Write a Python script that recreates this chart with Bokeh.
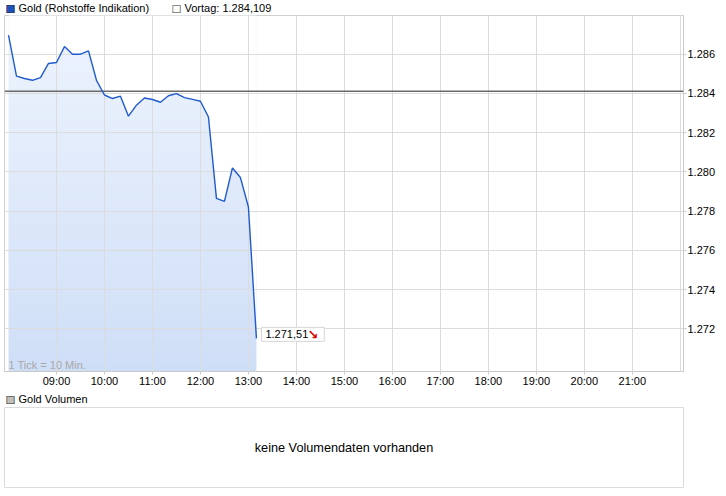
import numpy as np
from bokeh.plotting import figure
from bokeh.models import FixedTicker, Span, Label, Range1d
from bokeh.layouts import column
from bokeh.embed import file_html
from bokeh.resources import INLINE

# ---------------- data ----------------
times = ["08:00", "08:10", "08:20", "08:30", "08:40", "08:50",
         "09:00", "09:10", "09:20", "09:30", "09:40", "09:50",
         "10:00", "10:10", "10:20", "10:30", "10:40", "10:50",
         "11:00", "11:10", "11:20", "11:30", "11:40", "11:50",
         "12:00", "12:10", "12:20", "12:30", "12:40", "12:50",
         "13:00", "13:10"]
prices = [1.28697, 1.28488, 1.28476, 1.28467, 1.28481, 1.28553,
          1.28558, 1.28639, 1.28600, 1.28600, 1.28617, 1.28467,
          1.28392, 1.28374, 1.28386, 1.28284, 1.28340, 1.28377,
          1.28369, 1.28355, 1.28388, 1.28399, 1.28379, 1.28370,
          1.28360, 1.28280, 1.27865, 1.27850, 1.28020, 1.27971,
          1.27821, 1.27151]
prev_close = 1.284109
last_price_label = "1.271,51"
series_name = "Gold (Rohstoffe Indikation)"
prev_close_name = "Vortag: 1.284,109"
volume_name = "Gold Volumen"
no_volume_text = "keine Volumendaten vorhanden"
tick_note = "1 Tick = 10 Min."

x_tick_hours = [9, 10, 11, 12, 13, 14, 15, 16, 17, 18, 19, 20, 21]
x_tick_labels = ["09:00", "10:00", "11:00", "12:00", "13:00", "14:00", "15:00",
                 "16:00", "17:00", "18:00", "19:00", "20:00", "21:00"]
x_grid_hours = [9, 10, 11, 12, 13, 14, 15, 16, 17, 18, 19, 20, 21, 22]
y_ticks = [1.272, 1.274, 1.276, 1.278, 1.280, 1.282, 1.284, 1.286]
y_tick_labels = ["1.272", "1.274", "1.276", "1.278", "1.280", "1.282", "1.284", "1.286"]

x_lo, x_hi = 7 + 55 / 60, 22 + 4 / 60
y_lo, y_hi = 1.26982, 1.287975

hours = [int(t[:2]) + int(t[3:]) / 60 for t in times]

FONT = "Liberation Sans"
SYM_FONT = "DejaVu Sans"
W = 726


def blank_fig(height, **kw):
    f = figure(width=W, height=height, x_range=Range1d(0, 1), y_range=Range1d(0, 1),
               x_axis_location=None, y_axis_location=None,
               output_backend="svg", toolbar_location=None, **kw)
    f.grid.visible = False
    f.background_fill_color = "white"
    f.border_fill_color = "white"
    return f


def key_square(fig, x_off, fill):
    fig.add_layout(Label(x=0, y=0.5, x_offset=x_off, y_offset=0, text="\u25a0",
                         text_baseline="middle", text_align="left", text_color=fill,
                         text_font=SYM_FONT, text_font_size="10.5px"))
    fig.add_layout(Label(x=0, y=0.5, x_offset=x_off, y_offset=0, text="\u25a1",
                         text_baseline="middle", text_align="left", text_color="#333333",
                         text_font=SYM_FONT, text_font_size="10.5px"))


def key_text(fig, x_off, txt):
    fig.add_layout(Label(x=0, y=0.5, x_offset=x_off, y_offset=0, text=txt,
                         text_baseline="middle", text_align="left", text_color="black",
                         text_font=FONT, text_font_size="11px"))


# ---------------- header row ----------------
h1 = blank_fig(14, min_border_left=0, min_border_right=0, min_border_top=0, min_border_bottom=0)
h1.outline_line_color = None
key_square(h1, 1, "#1f52c0")
key_text(h1, 14, series_name)
key_square(h1, 167, "white")
key_text(h1, 180, prev_close_name)

# ---------------- main chart ----------------
p = figure(width=W, height=376, x_range=Range1d(x_lo, x_hi), y_range=Range1d(y_lo, y_hi),
           y_axis_location="right", output_backend="svg", toolbar_location=None,
           min_border_left=0, min_border_right=43, min_border_top=1, min_border_bottom=19)
p.background_fill_color = "white"
p.border_fill_color = "white"
p.outline_line_color = "#d0d0d0"

# gradient fill under the line
n = 160
img = np.zeros((n, 1), dtype=np.uint32)
view = img.view(dtype=np.uint8).reshape((n, 1, 4))
top_c = np.array([238, 244, 253], dtype=float)
bot_c = np.array([207, 222, 247], dtype=float)
for i in range(n):
    t = i / (n - 1)
    c = bot_c + (top_c - bot_c) * t
    view[i, 0, 0] = int(round(c[0]))
    view[i, 0, 1] = int(round(c[1]))
    view[i, 0, 2] = int(round(c[2]))
    view[i, 0, 3] = 255
p.image_rgba(image=[img], x=hours[0], y=y_lo, dw=hours[-1] - hours[0], dh=y_hi - y_lo)
p.varea(x=hours, y1=prices, y2=y_hi, fill_color="white")

line_r = p.line(hours, prices, line_color="#1f5bcc", line_width=1.4)
line_r.level = "overlay"

p.xgrid.ticker = FixedTicker(ticks=x_grid_hours)
p.ygrid.ticker = FixedTicker(ticks=y_ticks)
p.grid.grid_line_color = "#dcdcdc"
p.grid.level = "guide"

p.xaxis.ticker = FixedTicker(ticks=x_tick_hours)
p.xaxis.major_label_overrides = dict(zip(x_tick_hours, x_tick_labels))
p.yaxis.ticker = FixedTicker(ticks=y_ticks)
p.yaxis.major_label_overrides = dict(zip(y_ticks, y_tick_labels))
for ax in (p.xaxis, p.yaxis):
    ax.axis_line_color = "#c8c8c8"
    ax.major_tick_line_color = "#c8c8c8"
    ax.minor_tick_line_color = None
    ax.major_tick_in = 0
    ax.major_tick_out = 3
    ax.major_label_text_font = FONT
    ax.major_label_text_font_size = "11px"
    ax.major_label_text_color = "black"
p.xaxis.major_label_standoff = 0
p.yaxis.major_label_standoff = 1

p.add_layout(Span(location=prev_close, dimension="width", line_color="#6a6a6a", line_width=1.5))

p.add_layout(Label(x=x_lo, y=y_lo, x_offset=4, y_offset=1, text=tick_note,
                   text_baseline="bottom", text_align="left", text_color="#a8a8a8",
                   text_font=FONT, text_font_size="11px"))

p.add_layout(Label(x=hours[-1], y=prices[-1], x_offset=5, y_offset=4, text=last_price_label,
                   text_baseline="middle", text_align="left", text_color="black",
                   text_font=FONT, text_font_size="11px",
                   background_fill_color="white", border_line_color="#d6d6d6",
                   padding=dict(left=4, right=16, top=3, bottom=3)))
p.add_layout(Label(x=hours[-1], y=prices[-1], x_offset=51, y_offset=4, text="\u2198",
                   text_baseline="middle", text_align="left", text_color="#e00000",
                   text_font=SYM_FONT, text_font_size="13px", text_font_style="bold"))

# ---------------- volume header + panel ----------------
h2 = blank_fig(16, min_border_left=0, min_border_right=0, min_border_top=0, min_border_bottom=0)
h2.outline_line_color = None
key_square(h2, 1, "#c0c0c0")
key_text(h2, 14, volume_name)

p2 = blank_fig(89, min_border_left=4, min_border_right=41, min_border_top=1, min_border_bottom=8)
p2.outline_line_color = "#dcdcdc"
p2.add_layout(Label(x=0.5, y=0.5, text=no_volume_text, text_align="center", text_baseline="middle",
                    text_font=FONT, text_font_size="12.7px", text_color="black"))

layout = column(h1, p, h2, p2, spacing=0)
open("out.html", "w").write(file_html(layout, INLINE))
